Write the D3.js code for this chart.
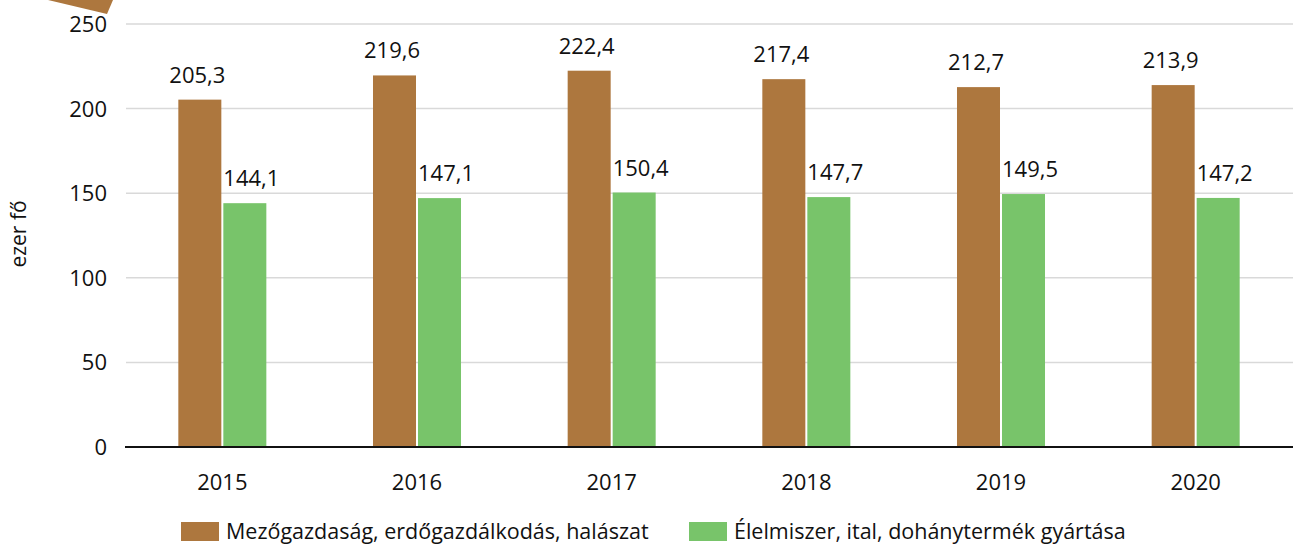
<!DOCTYPE html>
<html>
<head>
<meta charset="utf-8">
<script src="https://cdn.jsdelivr.net/npm/d3@7"></script>
<style>
  body { margin: 0; background: #fff; }
  svg text { font-family: "Open Sans", sans-serif; fill: #111; }
</style>
</head>
<body>
<div id="chart"></div>
<script>
var years = ["2015", "2016", "2017", "2018", "2019", "2020"];
var seriesNames = ["Mezőgazdaság, erdőgazdálkodás, halászat", "Élelmiszer, ital, dohánytermék gyártása"];
var agriculture = [205.3, 219.6, 222.4, 217.4, 212.7, 213.9];
var food = [144.1, 147.1, 150.4, 147.7, 149.5, 147.2];
var yTicks = [0, 50, 100, 150, 200, 250];
var colors = ["#ad773e", "#78c46a"];

var width = 1293, height = 546;
var margin = {top: 24, right: 0, bottom: 99, left: 125};

var svg = d3.select("#chart").append("svg")
  .attr("width", width)
  .attr("height", height);

// decorative corner shape
svg.append("path")
  .attr("d", "M48,0 L113,0 L107,14 Z")
  .attr("fill", colors[0]);

var x0 = d3.scaleBand()
  .domain(years)
  .range([margin.left, width - margin.right])
  .paddingInner(0)
  .paddingOuter(0);

var x1 = d3.scaleBand()
  .domain([0, 1])
  .range([0, x0.bandwidth()])
  .paddingInner(0)
  .paddingOuter(1.212);

var y = d3.scaleLinear()
  .domain([0, 250])
  .range([height - margin.bottom, margin.top]);

// gridlines
svg.selectAll(".grid")
  .data(yTicks.filter(function(d){ return d > 0; }))
  .enter().append("line")
  .attr("class", "grid")
  .attr("x1", margin.left + 1)
  .attr("x2", width)
  .attr("y1", function(d){ return y(d); })
  .attr("y2", function(d){ return y(d); })
  .attr("stroke", "#d9d9d9")
  .attr("stroke-width", 1.5);

// y tick labels
svg.selectAll(".ytick")
  .data(yTicks)
  .enter().append("text")
  .attr("class", "ytick")
  .attr("x", 107)
  .attr("y", function(d){ return y(d); })
  .attr("dy", "0.36em")
  .attr("text-anchor", "end")
  .attr("font-size", "22px")
  .text(function(d){ return d; });

// y title
svg.append("text")
  .attr("transform", "translate(26,234) rotate(-90)")
  .attr("text-anchor", "middle")
  .attr("font-size", "21px")
  .text("ezer fő");

var data = years.map(function(yr, i){
  return {year: yr, values: [agriculture[i], food[i]]};
});

var groups = svg.selectAll(".group")
  .data(data)
  .enter().append("g")
  .attr("class", "group")
  .attr("transform", function(d){ return "translate(" + x0(d.year) + ",0)"; });

groups.selectAll("rect")
  .data(function(d){ return d.values.map(function(v, k){ return {k: k, v: v}; }); })
  .enter().append("rect")
  .attr("x", function(d){ return x1(d.k) + (d.k === 1 ? 1 : 0); })
  .attr("width", x1.bandwidth() - 1)
  .attr("y", function(d){ return y(d.v); })
  .attr("height", function(d){ return y(0) - y(d.v); })
  .attr("fill", function(d){ return colors[d.k]; });

groups.selectAll(".value")
  .data(function(d){ return d.values.map(function(v, k){ return {k: k, v: v}; }); })
  .enter().append("text")
  .attr("class", "value")
  .attr("x", function(d){ return x1(d.k) + x1.bandwidth() / 2 + (d.k === 0 ? -3 : 7); })
  .attr("y", function(d){ return y(d.v) - 17; })
  .attr("text-anchor", "middle")
  .attr("font-size", "22px")
  .text(function(d){ return d3.format(".1f")(d.v).replace(".", ","); });

// x axis line
svg.append("line")
  .attr("x1", margin.left)
  .attr("x2", width)
  .attr("y1", y(0))
  .attr("y2", y(0))
  .attr("stroke", "#111")
  .attr("stroke-width", 2);

// x labels
svg.selectAll(".xlabel")
  .data(years)
  .enter().append("text")
  .attr("class", "xlabel")
  .attr("x", function(d){ return x0(d) + x0.bandwidth() / 2; })
  .attr("y", 490)
  .attr("text-anchor", "middle")
  .attr("font-size", "22px")
  .text(function(d){ return d; });

// legend
var legendX = [181, 689];
var legend = svg.selectAll(".legend")
  .data(seriesNames)
  .enter().append("g")
  .attr("class", "legend")
  .attr("transform", function(d, i){ return "translate(" + legendX[i] + ",522)"; });

legend.append("rect")
  .attr("width", 38)
  .attr("height", 19)
  .attr("fill", function(d, i){ return colors[i]; });

legend.append("text")
  .attr("x", 45)
  .attr("y", 17)
  .attr("font-size", "21.5px")
  .text(function(d){ return d; });
</script>
</body>
</html>
